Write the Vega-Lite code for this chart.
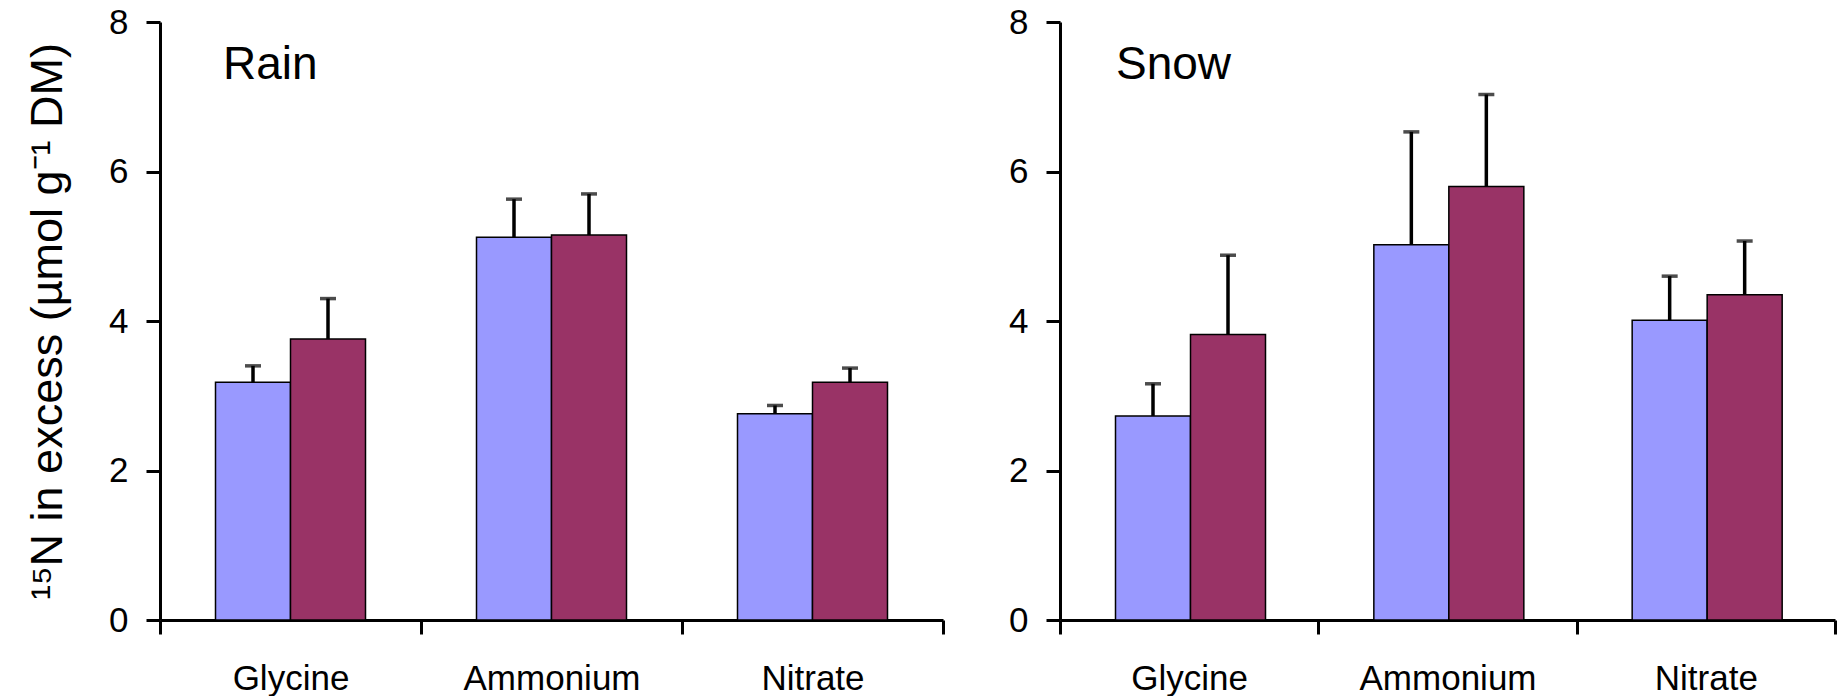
{
  "$schema": "https://vega.github.io/schema/vega-lite/v6.json",
  "background": "white",
  "padding": {"left": 25, "top": 5, "right": 0, "bottom": 0},
  "data": {
    "values": [
      {"panel": "Rain", "source": "Glycine", "series": "Series 1", "value": 3.18, "upper": 3.40},
      {"panel": "Rain", "source": "Glycine", "series": "Series 2", "value": 3.76, "upper": 4.30},
      {"panel": "Rain", "source": "Ammonium", "series": "Series 1", "value": 5.12, "upper": 5.63},
      {"panel": "Rain", "source": "Ammonium", "series": "Series 2", "value": 5.15, "upper": 5.70},
      {"panel": "Rain", "source": "Nitrate", "series": "Series 1", "value": 2.76, "upper": 2.87},
      {"panel": "Rain", "source": "Nitrate", "series": "Series 2", "value": 3.18, "upper": 3.37},
      {"panel": "Snow", "source": "Glycine", "series": "Series 1", "value": 2.73, "upper": 3.16},
      {"panel": "Snow", "source": "Glycine", "series": "Series 2", "value": 3.82, "upper": 4.88},
      {"panel": "Snow", "source": "Ammonium", "series": "Series 1", "value": 5.02, "upper": 6.53},
      {"panel": "Snow", "source": "Ammonium", "series": "Series 2", "value": 5.80, "upper": 7.03},
      {"panel": "Snow", "source": "Nitrate", "series": "Series 1", "value": 4.01, "upper": 4.60},
      {"panel": "Snow", "source": "Nitrate", "series": "Series 2", "value": 4.35, "upper": 5.07}
    ]
  },
  "config": {
    "font": "Liberation Sans",
    "view": {"stroke": null},
    "axis": {
      "domainColor": "black",
      "domainWidth": 3,
      "tickColor": "black",
      "tickWidth": 3,
      "tickSize": 14,
      "labelColor": "black",
      "labelFont": "Liberation Sans",
      "labelFontSize": 35,
      "grid": false,
      "titleColor": "black",
      "titleFont": "Liberation Sans",
      "titleFontWeight": "normal"
    },
    "title": {
      "font": "Liberation Sans",
      "fontSize": 46,
      "fontWeight": "normal",
      "color": "black",
      "anchor": "start",
      "frame": "group",
      "baseline": "alphabetic",
      "offset": 0
    }
  },
  "spacing": 117,
  "bounds": "flush",
  "hconcat": [
    {
      "width": 783,
      "height": 598,
      "title": {"text": "Rain", "dx": 63, "dy": 88},
      "transform": [{"filter": "datum.panel === 'Rain'"}],
      "encoding": {
        "x": {
          "field": "source",
          "type": "nominal",
          "sort": ["Glycine", "Ammonium", "Nitrate"],
          "scale": {"paddingInner": 0, "paddingOuter": 0},
          "axis": {"title": null, "labelAngle": 0, "tickBand": "extent", "labelPadding": 27}
        },
        "xOffset": {
          "field": "series",
          "type": "nominal",
          "scale": {"paddingInner": 0, "paddingOuter": 0.74}
        }
      },
      "layer": [
        {
          "mark": {"type": "bar", "stroke": "black", "strokeWidth": 1.5},
          "encoding": {
            "y": {
              "field": "value",
              "type": "quantitative",
              "scale": {"domain": [0, 8], "nice": false},
              "axis": {
                "values": [0, 2, 4, 6, 8],
                "format": "d",
                "labelPadding": 18,
                "title": "¹⁵N in excess (µmol g⁻¹ DM)",
                "titleFontSize": 45,
                "titlePadding": 38
              }
            },
            "color": {
              "field": "series",
              "type": "nominal",
              "scale": {"domain": ["Series 1", "Series 2"], "range": ["#9999FF", "#993366"]},
              "legend": null
            }
          }
        },
        {
          "mark": {"type": "rule", "color": "black", "strokeWidth": 3.5},
          "encoding": {
            "y": {"field": "value", "type": "quantitative"},
            "y2": {"field": "upper"}
          }
        },
        {
          "mark": {"type": "tick", "color": "black", "thickness": 3.5, "size": 16, "orient": "horizontal"},
          "encoding": {
            "y": {"field": "upper", "type": "quantitative"}
          }
        }
      ]
    },
    {
      "width": 775,
      "height": 598,
      "title": {"text": "Snow", "dx": 56, "dy": 88},
      "transform": [{"filter": "datum.panel === 'Snow'"}],
      "encoding": {
        "x": {
          "field": "source",
          "type": "nominal",
          "sort": ["Glycine", "Ammonium", "Nitrate"],
          "scale": {"paddingInner": 0, "paddingOuter": 0},
          "axis": {"title": null, "labelAngle": 0, "tickBand": "extent", "labelPadding": 27}
        },
        "xOffset": {
          "field": "series",
          "type": "nominal",
          "scale": {"paddingInner": 0, "paddingOuter": 0.74}
        }
      },
      "layer": [
        {
          "mark": {"type": "bar", "stroke": "black", "strokeWidth": 1.5},
          "encoding": {
            "y": {
              "field": "value",
              "type": "quantitative",
              "scale": {"domain": [0, 8], "nice": false},
              "axis": {"values": [0, 2, 4, 6, 8], "format": "d", "labelPadding": 18, "title": null}
            },
            "color": {
              "field": "series",
              "type": "nominal",
              "scale": {"domain": ["Series 1", "Series 2"], "range": ["#9999FF", "#993366"]},
              "legend": null
            }
          }
        },
        {
          "mark": {"type": "rule", "color": "black", "strokeWidth": 3.5},
          "encoding": {
            "y": {"field": "value", "type": "quantitative"},
            "y2": {"field": "upper"}
          }
        },
        {
          "mark": {"type": "tick", "color": "black", "thickness": 3.5, "size": 16, "orient": "horizontal"},
          "encoding": {
            "y": {"field": "upper", "type": "quantitative"}
          }
        }
      ]
    }
  ]
}
